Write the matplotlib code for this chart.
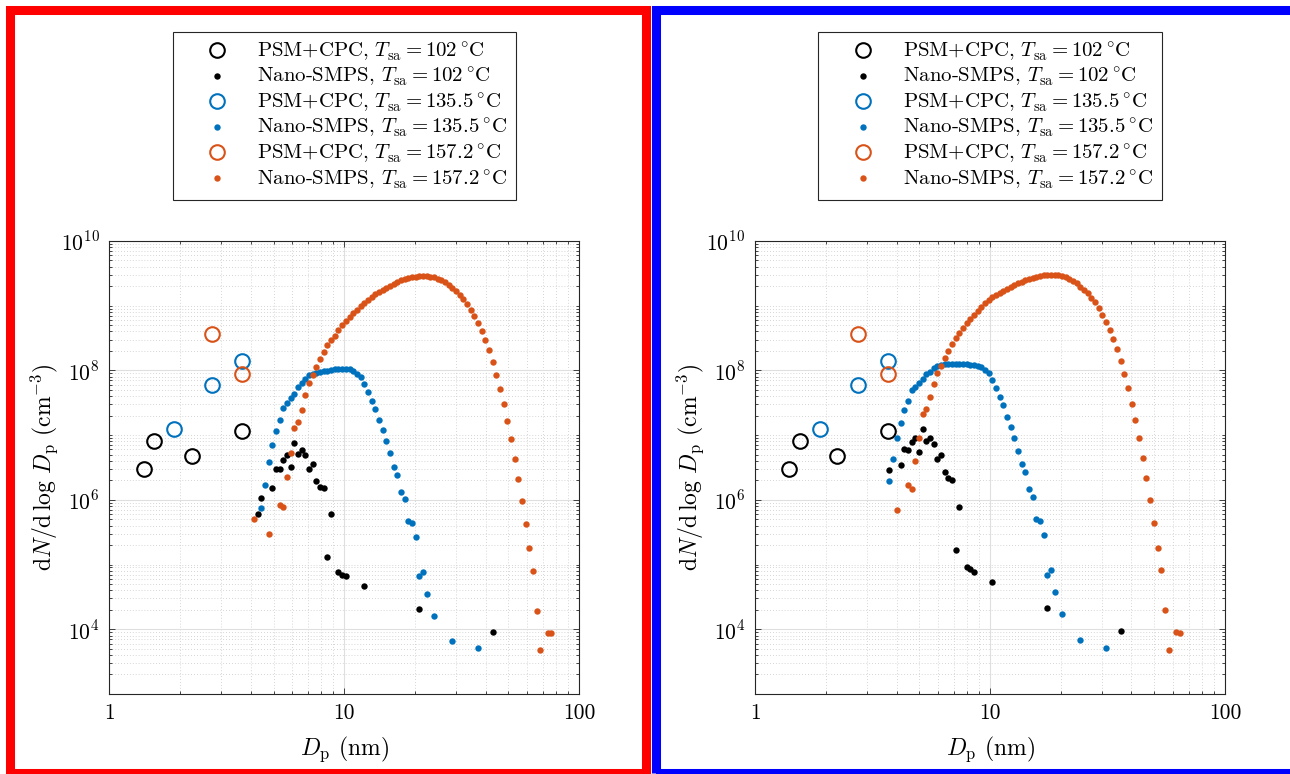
import numpy as np
import matplotlib
matplotlib.use("Agg")
import matplotlib.pyplot as plt
from matplotlib.patches import Rectangle
from matplotlib.ticker import FixedLocator, LogLocator, NullFormatter, FuncFormatter

plt.rcParams['font.family'] = ['cmr10', 'DejaVu Serif']
plt.rcParams['mathtext.fontset'] = 'cm'
plt.rcParams['axes.formatter.use_mathtext'] = True
plt.rcParams['axes.unicode_minus'] = False

# PSM+CPC points (same in both panels)
psm_dp_102 = [1.40, 1.55, 2.24, 3.67]
psm_n_102 = [3.0e6, 8.0e6, 4.8e6, 1.17e7]
psm_dp_135 = [1.89, 2.75, 3.67]
psm_n_135 = [1.25e7, 5.85e7, 1.39e8]
psm_dp_157 = [2.75, 3.67]
psm_n_157 = [3.6e8, 8.7e7]

# Nano-SMPS, left panel
smps_a_dp_102 = [4.282, 4.441, 4.946, 5.128, 5.315, 5.509, 5.711, 5.921, 6.138, 6.362,
                 6.595, 6.838, 7.088, 7.347, 7.616, 7.897, 8.185, 8.485, 8.796, 9.452,
                 9.797, 10.16, 12.16, 20.86, 42.82]
smps_a_n_102 = [6.1e5, 1.08e6, 1.54e6, 2.96e6, 2.96e6, 4.17e6, 4.99e6, 3.21e6, 7.46e6, 5.16e6,
                5.81e6, 4.87e6, 2.96e6, 3.53e6, 1.95e6, 1.60e6, 1.52e6, 1.31e5, 6.04e5, 7.6e4,
                6.9e4, 6.6e4, 4.7e4, 2.04e4, 9.2e3]

smps_a_dp_135 = [4.441, 4.603, 4.771, 4.946, 5.128, 5.315, 5.509, 5.711, 5.921, 6.138,
                 6.362, 6.595, 6.838, 7.088, 7.347, 7.616, 7.897, 8.185, 8.485, 8.796,
                 9.120, 9.452, 9.797, 10.16, 10.53, 10.91, 11.31, 11.73, 12.16, 12.60,
                 13.07, 13.54, 14.04, 14.55, 15.09, 15.64, 16.21, 16.81, 17.42, 18.06,
                 18.73, 19.41, 20.12, 20.86, 21.63, 22.42, 24.09, 28.83, 37.09]
smps_a_n_135 = [7.4e5, 1.71e6, 3.84e6, 7.1e6, 1.17e7, 1.69e7, 2.62e7, 3.13e7, 3.70e7, 4.36e7,
                5.53e7, 6.37e7, 7.43e7, 8.37e7, 8.67e7, 9.2e7, 9.4e7, 9.66e7, 9.88e7, 1.02e8,
                1.05e8, 1.06e8, 1.06e8, 1.06e8, 1.04e8, 9.66e7, 8.9e7, 7.9e7, 6.08e7, 4.57e7,
                3.36e7, 2.56e7, 1.69e7, 1.20e7, 8.1e6, 5.29e6, 3.21e6, 2.45e6, 1.34e6, 1.02e6,
                4.71e5, 4.34e5, 2.67e5, 6.7e4, 7.7e4, 3.56e4, 1.63e4, 6.6e3, 5.1e3]

smps_a_dp_157 = [4.131, 4.771, 5.315, 5.509, 5.711, 5.921, 6.138, 6.362, 6.595, 6.838,
                 7.088, 7.347, 7.616, 7.897, 8.185, 8.485, 8.796, 9.120, 9.452, 9.797,
                 10.16, 10.53, 10.91, 11.31, 11.73, 12.16, 12.60, 13.07, 13.54, 14.04,
                 14.55, 15.09, 15.64, 16.21, 16.81, 17.42, 18.06, 18.73, 19.41, 20.12,
                 20.86, 21.63, 22.42, 23.24, 24.09, 24.97, 25.88, 26.83, 27.81, 28.83,
                 29.89, 30.98, 32.12, 33.30, 34.51, 35.78, 37.09, 38.45, 39.86, 41.31,
                 42.82, 44.41, 46.03, 47.71, 49.46, 51.28, 53.15, 55.09, 57.11, 59.21,
                 61.38, 63.62, 65.95, 68.38, 73.47, 76.16]
smps_a_n_157 = [5.0e5, 3.0e5, 8.4e5, 7.7e5, 2.25e6, 5.3e6, 1.27e7, 1.59e7, 2.44e7, 4.11e7,
                6.30e7, 8.4e7, 1.13e8, 1.48e8, 1.92e8, 2.43e8, 2.91e8, 3.43e8, 4.15e8, 4.95e8,
                5.71e8, 6.66e8, 7.68e8, 8.65e8, 9.73e8, 1.10e9, 1.23e9, 1.36e9, 1.49e9, 1.62e9,
                1.76e9, 1.89e9, 2.03e9, 2.18e9, 2.31e9, 2.45e9, 2.57e9, 2.67e9, 2.73e9, 2.80e9,
                2.83e9, 2.83e9, 2.83e9, 2.80e9, 2.73e9, 2.61e9, 2.45e9, 2.29e9, 2.08e9, 1.87e9,
                1.66e9, 1.44e9, 1.25e9, 1.07e9, 8.55e8, 6.91e8, 5.38e8, 4.05e8, 2.90e8, 2.04e8,
                1.35e8, 8.57e7, 5.15e7, 2.99e7, 1.65e7, 8.7e6, 4.33e6, 2.07e6, 9.6e5, 4.28e5,
                1.78e5, 8.05e4, 1.90e4, 4.7e3, 8.9e3, 8.8e3]

# Nano-SMPS, right panel
smps_b_dp_102 = [3.734, 4.160, 4.312, 4.470, 4.634, 4.804, 4.980, 5.162, 5.351, 5.547,
                 5.751, 5.961, 6.180, 6.406, 6.641, 6.884, 7.136, 7.398, 7.950, 8.241,
                 8.543, 10.23, 17.54, 36.01]
smps_b_n_102 = [2.88e6, 3.40e6, 6.15e6, 5.86e6, 7.79e6, 8.88e6, 5.46e6, 1.24e7, 8.17e6, 8.88e6,
                7.26e6, 4.26e6, 4.91e6, 2.68e6, 2.16e6, 2.01e6, 1.67e5, 7.7e5, 9.2e4, 8.4e4,
                7.6e4, 5.3e4, 2.14e4, 9.4e3]

smps_b_dp_135 = [3.734, 3.871, 4.013, 4.160, 4.312, 4.470, 4.634, 4.804, 4.980, 5.162,
                 5.351, 5.547, 5.751, 5.961, 6.180, 6.406, 6.641, 6.884, 7.136, 7.398,
                 7.669, 7.950, 8.241, 8.543, 8.856, 9.180, 9.516, 9.865, 10.23, 10.60,
                 10.99, 11.39, 11.81, 12.24, 12.69, 13.16, 13.64, 14.14, 14.65, 15.19,
                 15.75, 16.32, 16.92, 17.54, 18.18, 18.85, 20.25, 24.24, 31.18]
smps_b_n_135 = [1.97e6, 4.26e6, 8.88e6, 1.55e7, 2.41e7, 3.36e7, 4.97e7, 5.59e7, 6.29e7, 7.35e7,
                8.78e7, 9.53e7, 1.10e8, 1.17e8, 1.22e8, 1.24e8, 1.24e8, 1.24e8, 1.24e8, 1.25e8,
                1.27e8, 1.24e8, 1.22e8, 1.19e8, 1.17e8, 1.11e8, 1.01e8, 8.99e7, 7.10e7, 5.27e7,
                3.92e7, 2.88e7, 1.92e7, 1.35e7, 8.88e6, 5.72e6, 3.56e6, 2.65e6, 1.45e6, 1.10e6,
                5.0e5, 4.63e5, 2.84e5, 7.0e4, 8.2e4, 3.73e4, 1.71e4, 6.8e3, 5.2e3]

smps_b_dp_157 = [4.013, 4.470, 4.634, 4.804, 4.980, 5.162, 5.351, 5.547, 5.751, 5.961,
                 6.180, 6.406, 6.641, 6.884, 7.136, 7.398, 7.669, 7.950, 8.241, 8.543,
                 8.856, 9.180, 9.516, 9.865, 10.23, 10.60, 10.99, 11.39, 11.81, 12.24,
                 12.69, 13.16, 13.64, 14.14, 14.65, 15.19, 15.75, 16.32, 16.92, 17.54,
                 18.18, 18.85, 19.54, 20.25, 21.00, 21.76, 22.56, 23.39, 24.24, 25.13,
                 26.05, 27.01, 27.99, 29.02, 30.08, 31.18, 32.33, 33.51, 34.74, 36.01,
                 37.34, 38.71, 40.13, 41.60, 43.12, 44.70, 46.34, 48.04, 49.80, 51.62,
                 53.51, 55.47, 57.51, 61.80, 64.06]
smps_b_n_157 = [6.92e5, 1.67e6, 1.45e6, 4.01e6, 9.1e6, 2.14e7, 2.52e7, 3.82e7, 6.15e7, 8.99e7,
                1.17e8, 1.53e8, 2.02e8, 2.55e8, 3.13e8, 3.73e8, 4.46e8, 5.33e8, 6.15e8, 7.18e8,
                8.38e8, 9.66e8, 1.09e9, 1.22e9, 1.35e9, 1.46e9, 1.59e9, 1.71e9, 1.83e9, 1.97e9,
                2.09e9, 2.21e9, 2.35e9, 2.46e9, 2.58e9, 2.68e9, 2.78e9, 2.88e9, 2.95e9, 2.98e9,
                2.98e9, 2.98e9, 2.95e9, 2.88e9, 2.78e9, 2.62e9, 2.44e9, 2.21e9, 1.97e9, 1.75e9,
                1.55e9, 1.33e9, 1.13e9, 9.1e8, 7.18e8, 5.66e8, 4.21e8, 3.05e8, 2.11e8, 1.39e8,
                8.78e7, 5.27e7, 3.05e7, 1.69e7, 8.88e6, 4.41e6, 2.14e6, 9.8e5, 4.36e5, 1.81e5,
                8.2e4, 1.95e4, 4.7e3, 9.0e3, 8.9e3]

temps = ['102', '135.5', '157.2']
colors = ['black', '#0072BD', '#D95319']

fig = plt.figure(figsize=(12.9, 7.74), dpi=100)

# coloured frames around the two panels
fig.patches.append(Rectangle((0.0074, 0.0007), 0.4937, 0.9858, transform=fig.transFigure,
                             fill=False, edgecolor='#FF0000', linewidth=6.5, zorder=0))
fig.patches.append(Rectangle((0.5083, 0.0007), 0.4929, 0.9858, transform=fig.transFigure,
                             fill=False, edgecolor='#0000FF', linewidth=6.5, zorder=0))

panels = [
    ([0.0847, 0.1034, 0.3643, 0.5853],
     [(smps_a_dp_102, smps_a_n_102), (smps_a_dp_135, smps_a_n_135), (smps_a_dp_157, smps_a_n_157)]),
    ([0.5853, 0.1034, 0.3643, 0.5853],
     [(smps_b_dp_102, smps_b_n_102), (smps_b_dp_135, smps_b_n_135), (smps_b_dp_157, smps_b_n_157)]),
]
psm = [(psm_dp_102, psm_n_102), (psm_dp_135, psm_n_135), (psm_dp_157, psm_n_157)]

for rect, smps in panels:
    ax = fig.add_axes(rect)
    for k in range(3):
        ax.plot(psm[k][0], psm[k][1], 'o', ls='none', ms=10.5, mfc='none', mec=colors[k], mew=1.5,
                label=r'PSM+CPC, $T_{\mathrm{sa}}=' + temps[k] + r'\,^{\circ}\mathrm{C}$')
        ax.plot(smps[k][0], smps[k][1], 'o', ls='none', ms=4.6, mfc=colors[k], mec='none',
                label=r'Nano-SMPS, $T_{\mathrm{sa}}=' + temps[k] + r'\,^{\circ}\mathrm{C}$')
    ax.set_xscale('log')
    ax.set_yscale('log')
    ax.set_xlim(1, 100)
    ax.set_ylim(1e3, 1e10)
    ax.xaxis.set_major_locator(FixedLocator([1, 10, 100]))
    ax.xaxis.set_major_formatter(FuncFormatter(lambda v, p: '%d' % round(v)))
    ax.xaxis.set_minor_locator(LogLocator(base=10, subs=np.arange(2, 10), numticks=20))
    ax.xaxis.set_minor_formatter(NullFormatter())
    ax.yaxis.set_major_locator(FixedLocator([1e4, 1e6, 1e8, 1e10]))
    ax.yaxis.set_major_formatter(FuncFormatter(lambda v, p: r'$10^{%d}$' % round(np.log10(v))))
    ax.yaxis.set_minor_locator(LogLocator(base=10, subs=np.arange(1, 10), numticks=30))
    ax.yaxis.set_minor_formatter(NullFormatter())
    ax.tick_params(which='both', direction='in', top=True, right=True, labelsize=15.5,
                   color='#262626', width=0.6)
    ax.tick_params(which='major', length=4.5, pad=7)
    ax.tick_params(which='minor', length=2.5)
    ax.grid(which='major', color='#dfdfdf', linewidth=0.8, linestyle='-')
    ax.grid(which='minor', color='#c8c8c8', linewidth=0.6, linestyle=(0, (1, 2.5)))
    ax.set_axisbelow(True)
    for s in ax.spines.values():
        s.set_color('#262626')
        s.set_linewidth(0.8)
    ax.set_xlabel(r'$D_{\mathrm{p}}$ (nm)', fontsize=17, labelpad=8)
    ax.set_ylabel(r'$\mathrm{d}N/\mathrm{d}\,\log\,D_{\mathrm{p}}$ ($\mathrm{cm}^{-3}$)', fontsize=17)
    ax.yaxis.set_label_coords(-0.105, 0.5)
    leg = ax.legend(loc='lower center', bbox_to_anchor=(0.5, 1.0907), borderaxespad=0,
                    fontsize=15, fancybox=False, edgecolor='#262626', framealpha=1,
                    handlelength=3.5, handletextpad=0.17, borderpad=0.4, labelspacing=0.12,
                    numpoints=1)
    leg.get_frame().set_linewidth(0.8)

fig.savefig('out.png', dpi=100)
